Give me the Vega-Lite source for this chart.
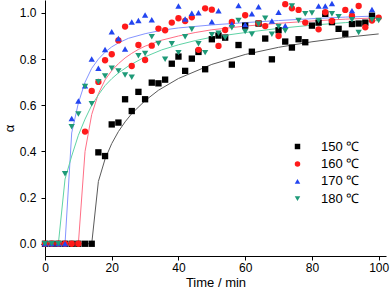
{
  "$schema": "https://vega.github.io/schema/vega-lite/v6.json",
  "width": 341,
  "height": 256,
  "autosize": "none",
  "padding": {"left": 45, "top": 0, "right": 4, "bottom": 36},
  "background": "white",
  "config": {
    "view": {"stroke": null},
    "font": "Liberation Sans",
    "axis": {"grid": false, "domainColor": "black", "tickColor": "black", "labelColor": "black", "titleColor": "black", "labelFont": "Liberation Sans", "titleFont": "Liberation Sans", "titleFontWeight": "normal", "labelFontSize": 12, "titleFontSize": 13, "domainWidth": 1, "tickWidth": 1},
    "legend": {"labelFont": "Liberation Sans", "labelFontSize": 13, "labelFontWeight": "normal", "labelColor": "black"}
  },
  "datasets": {
    "pts": [
      {"s":"150 ℃","t":0,"a":0},{"s":"150 ℃","t":2,"a":0},{"s":"150 ℃","t":4,"a":0},{"s":"150 ℃","t":6,"a":0},{"s":"150 ℃","t":8,"a":0},{"s":"150 ℃","t":10,"a":0},{"s":"150 ℃","t":12,"a":0},{"s":"150 ℃","t":14,"a":0},
      {"s":"150 ℃","t":16,"a":0.396},{"s":"150 ℃","t":18,"a":0.380},{"s":"150 ℃","t":20,"a":0.517},{"s":"150 ℃","t":22,"a":0.525},{"s":"150 ℃","t":24,"a":0.626},{"s":"150 ℃","t":26,"a":0.575},{"s":"150 ℃","t":28,"a":0.658},{"s":"150 ℃","t":30,"a":0.626},{"s":"150 ℃","t":32,"a":0.698},{"s":"150 ℃","t":34,"a":0.695},{"s":"150 ℃","t":36,"a":0.711},{"s":"150 ℃","t":38,"a":0.780},{"s":"150 ℃","t":40,"a":0.811},{"s":"150 ℃","t":42,"a":0.749},{"s":"150 ℃","t":44,"a":0.802},{"s":"150 ℃","t":46,"a":0.831},{"s":"150 ℃","t":48,"a":0.756},{"s":"150 ℃","t":50,"a":0.886},{"s":"150 ℃","t":52,"a":0.902},{"s":"150 ℃","t":54,"a":0.893},{"s":"150 ℃","t":56,"a":0.776},{"s":"150 ℃","t":58,"a":0.861},{"s":"150 ℃","t":60,"a":0.945},{"s":"150 ℃","t":62,"a":0.832},{"s":"150 ℃","t":64,"a":0.954},{"s":"150 ℃","t":66,"a":0.889},{"s":"150 ℃","t":68,"a":0.799},{"s":"150 ℃","t":70,"a":0.925},{"s":"150 ℃","t":72,"a":0.876},{"s":"150 ℃","t":74,"a":0.850},{"s":"150 ℃","t":76,"a":0.886},{"s":"150 ℃","t":78,"a":0.873},{"s":"150 ℃","t":80,"a":0.945},{"s":"150 ℃","t":82,"a":0.958},{"s":"150 ℃","t":84,"a":0.996},{"s":"150 ℃","t":86,"a":0.960},{"s":"150 ℃","t":88,"a":0.931},{"s":"150 ℃","t":90,"a":0.910},{"s":"150 ℃","t":92,"a":0.952},{"s":"150 ℃","t":94,"a":0.954},{"s":"150 ℃","t":96,"a":0.958},{"s":"150 ℃","t":98,"a":0.988},
      {"s":"160 ℃","t":0,"a":0},{"s":"160 ℃","t":2,"a":0},{"s":"160 ℃","t":4,"a":0},{"s":"160 ℃","t":6,"a":0},{"s":"160 ℃","t":8,"a":0},{"s":"160 ℃","t":10,"a":0},
      {"s":"160 ℃","t":12,"a":0.486},{"s":"160 ℃","t":14,"a":0.662},{"s":"160 ℃","t":16,"a":0.701},{"s":"160 ℃","t":18,"a":0.795},{"s":"160 ℃","t":20,"a":0.821},{"s":"160 ℃","t":22,"a":0.881},{"s":"160 ℃","t":24,"a":0.941},{"s":"160 ℃","t":26,"a":0.770},{"s":"160 ℃","t":28,"a":0.861},{"s":"160 ℃","t":30,"a":0.796},{"s":"160 ℃","t":32,"a":0.858},{"s":"160 ℃","t":34,"a":0.932},{"s":"160 ℃","t":36,"a":0.925},{"s":"160 ℃","t":38,"a":0.958},{"s":"160 ℃","t":40,"a":0.977},{"s":"160 ℃","t":42,"a":0.965},{"s":"160 ℃","t":44,"a":0.981},{"s":"160 ℃","t":46,"a":0.840},{"s":"160 ℃","t":48,"a":1.020},{"s":"160 ℃","t":50,"a":1.014},{"s":"160 ℃","t":52,"a":0.857},{"s":"160 ℃","t":54,"a":0.926},{"s":"160 ℃","t":56,"a":0.961},{"s":"160 ℃","t":60,"a":0.990},{"s":"160 ℃","t":64,"a":0.955},{"s":"160 ℃","t":66,"a":0.943},{"s":"160 ℃","t":70,"a":0.900},{"s":"160 ℃","t":72,"a":1.038},{"s":"160 ℃","t":74,"a":1.020},{"s":"160 ℃","t":76,"a":1.013},{"s":"160 ℃","t":78,"a":0.958},{"s":"160 ℃","t":82,"a":0.929},{"s":"160 ℃","t":84,"a":1.003},{"s":"160 ℃","t":86,"a":0.965},{"s":"160 ℃","t":90,"a":1.013},{"s":"160 ℃","t":92,"a":0.988},{"s":"160 ℃","t":94,"a":1.030},{"s":"160 ℃","t":96,"a":0.938},{"s":"160 ℃","t":98,"a":0.967},{"s":"160 ℃","t":100,"a":0.980},
      {"s":"170 ℃","t":0,"a":0},{"s":"170 ℃","t":2,"a":0},{"s":"170 ℃","t":4,"a":0},{"s":"170 ℃","t":6,"a":0},
      {"s":"170 ℃","t":8,"a":0.543},{"s":"170 ℃","t":10,"a":0.618},{"s":"170 ℃","t":12,"a":0.684},{"s":"170 ℃","t":14,"a":0.800},{"s":"170 ℃","t":16,"a":0.760},{"s":"170 ℃","t":18,"a":0.842},{"s":"170 ℃","t":20,"a":0.918},{"s":"170 ℃","t":22,"a":0.889},{"s":"170 ℃","t":24,"a":0.844},{"s":"170 ℃","t":26,"a":0.961},{"s":"170 ℃","t":28,"a":0.967},{"s":"170 ℃","t":30,"a":0.991},{"s":"170 ℃","t":32,"a":0.970},{"s":"170 ℃","t":40,"a":1.030},{"s":"170 ℃","t":42,"a":0.974},{"s":"170 ℃","t":44,"a":0.999},{"s":"170 ℃","t":46,"a":1.001},{"s":"170 ℃","t":50,"a":0.962},{"s":"170 ℃","t":52,"a":1.009},{"s":"170 ℃","t":56,"a":0.952},{"s":"170 ℃","t":58,"a":1.032},{"s":"170 ℃","t":60,"a":0.950},{"s":"170 ℃","t":62,"a":0.996},{"s":"170 ℃","t":64,"a":1.027},{"s":"170 ℃","t":68,"a":0.965},{"s":"170 ℃","t":70,"a":1.003},{"s":"170 ℃","t":72,"a":0.944},{"s":"170 ℃","t":82,"a":1.030},{"s":"170 ℃","t":84,"a":1.030},{"s":"170 ℃","t":86,"a":1.041},{"s":"170 ℃","t":92,"a":1.010},{"s":"170 ℃","t":98,"a":1.015},
      {"s":"180 ℃","t":0,"a":0},{"s":"180 ℃","t":2,"a":0},{"s":"180 ℃","t":4,"a":0},
      {"s":"180 ℃","t":6,"a":0.303},{"s":"180 ℃","t":8,"a":0.507},{"s":"180 ℃","t":10,"a":0.562},{"s":"180 ℃","t":12,"a":0.681},{"s":"180 ℃","t":14,"a":0.607},{"s":"180 ℃","t":16,"a":0.702},{"s":"180 ℃","t":18,"a":0.727},{"s":"180 ℃","t":20,"a":0.760},{"s":"180 ℃","t":22,"a":0.749},{"s":"180 ℃","t":24,"a":0.731},{"s":"180 ℃","t":26,"a":0.721},{"s":"180 ℃","t":28,"a":0.814},{"s":"180 ℃","t":30,"a":0.824},{"s":"180 ℃","t":32,"a":0.897},{"s":"180 ℃","t":34,"a":0.868},{"s":"180 ℃","t":36,"a":0.799},{"s":"180 ℃","t":38,"a":0.866},{"s":"180 ℃","t":40,"a":0.828},{"s":"180 ℃","t":42,"a":0.897},{"s":"180 ℃","t":44,"a":0.929},{"s":"180 ℃","t":46,"a":0.866},{"s":"180 ℃","t":48,"a":0.828},{"s":"180 ℃","t":50,"a":0.905},{"s":"180 ℃","t":52,"a":0.912},{"s":"180 ℃","t":54,"a":0.893},{"s":"180 ℃","t":56,"a":0.936},{"s":"180 ℃","t":58,"a":0.967},{"s":"180 ℃","t":60,"a":0.919},{"s":"180 ℃","t":62,"a":0.908},{"s":"180 ℃","t":64,"a":0.952},{"s":"180 ℃","t":66,"a":0.977},{"s":"180 ℃","t":68,"a":0.908},{"s":"180 ℃","t":70,"a":0.941},{"s":"180 ℃","t":72,"a":0.923},{"s":"180 ℃","t":74,"a":1.030},{"s":"180 ℃","t":76,"a":0.967},{"s":"180 ℃","t":78,"a":0.996},{"s":"180 ℃","t":80,"a":1.000},{"s":"180 ℃","t":82,"a":0.967},{"s":"180 ℃","t":86,"a":0.996},{"s":"180 ℃","t":88,"a":0.984},{"s":"180 ℃","t":92,"a":0.970},{"s":"180 ℃","t":94,"a":0.915},{"s":"180 ℃","t":98,"a":0.970},{"s":"180 ℃","t":100,"a":0.967}
    ],
    "fit": [
      {"c":"150 fit","t":0,"a":0},{"c":"150 fit","t":14,"a":0},{"c":"150 fit","t":16,"a":0.27},{"c":"150 fit","t":18,"a":0.367},{"c":"150 fit","t":20,"a":0.434},{"c":"150 fit","t":22,"a":0.486},{"c":"150 fit","t":24,"a":0.528},{"c":"150 fit","t":26,"a":0.564},{"c":"150 fit","t":30,"a":0.62},{"c":"150 fit","t":34,"a":0.665},{"c":"150 fit","t":40,"a":0.716},{"c":"150 fit","t":50,"a":0.777},{"c":"150 fit","t":60,"a":0.82},{"c":"150 fit","t":70,"a":0.851},{"c":"150 fit","t":80,"a":0.875},{"c":"150 fit","t":90,"a":0.894},{"c":"150 fit","t":100,"a":0.909},
      {"c":"160 fit","t":0,"a":0},{"c":"160 fit","t":10,"a":0},{"c":"160 fit","t":12,"a":0.40},{"c":"160 fit","t":14,"a":0.56},{"c":"160 fit","t":16,"a":0.65},{"c":"160 fit","t":18,"a":0.71},{"c":"160 fit","t":20,"a":0.75},{"c":"160 fit","t":22,"a":0.78},{"c":"160 fit","t":24,"a":0.805},{"c":"160 fit","t":26,"a":0.825},{"c":"160 fit","t":28,"a":0.842},{"c":"160 fit","t":30,"a":0.856},{"c":"160 fit","t":35,"a":0.882},{"c":"160 fit","t":40,"a":0.90},{"c":"160 fit","t":45,"a":0.915},{"c":"160 fit","t":50,"a":0.927},{"c":"160 fit","t":60,"a":0.943},{"c":"160 fit","t":70,"a":0.955},{"c":"160 fit","t":80,"a":0.965},{"c":"160 fit","t":90,"a":0.973},{"c":"160 fit","t":100,"a":0.979},
      {"c":"170 fit","t":0,"a":0},{"c":"170 fit","t":6,"a":0},{"c":"170 fit","t":8,"a":0.48},{"c":"170 fit","t":10,"a":0.61},{"c":"170 fit","t":12,"a":0.70},{"c":"170 fit","t":14,"a":0.76},{"c":"170 fit","t":16,"a":0.80},{"c":"170 fit","t":18,"a":0.83},{"c":"170 fit","t":20,"a":0.853},{"c":"170 fit","t":22,"a":0.87},{"c":"170 fit","t":25,"a":0.89},{"c":"170 fit","t":30,"a":0.91},{"c":"170 fit","t":35,"a":0.925},{"c":"170 fit","t":40,"a":0.935},{"c":"170 fit","t":50,"a":0.948},{"c":"170 fit","t":60,"a":0.958},{"c":"170 fit","t":70,"a":0.967},{"c":"170 fit","t":80,"a":0.975},{"c":"170 fit","t":90,"a":0.982},{"c":"170 fit","t":100,"a":0.987},
      {"c":"180 fit","t":0,"a":0},{"c":"180 fit","t":4,"a":0},{"c":"180 fit","t":6,"a":0.28},{"c":"180 fit","t":8,"a":0.38},{"c":"180 fit","t":10,"a":0.47},{"c":"180 fit","t":12,"a":0.54},{"c":"180 fit","t":14,"a":0.60},{"c":"180 fit","t":16,"a":0.645},{"c":"180 fit","t":18,"a":0.685},{"c":"180 fit","t":20,"a":0.715},{"c":"180 fit","t":22,"a":0.74},{"c":"180 fit","t":25,"a":0.77},{"c":"180 fit","t":30,"a":0.81},{"c":"180 fit","t":35,"a":0.84},{"c":"180 fit","t":40,"a":0.862},{"c":"180 fit","t":45,"a":0.88},{"c":"180 fit","t":50,"a":0.895},{"c":"180 fit","t":60,"a":0.915},{"c":"180 fit","t":70,"a":0.933},{"c":"180 fit","t":80,"a":0.947},{"c":"180 fit","t":90,"a":0.958},{"c":"180 fit","t":100,"a":0.967}
    ]
  },
  "layer": [
    {
      "data": {"name": "fit"},
      "mark": {"type": "line", "strokeWidth": 1, "interpolate": "linear"},
      "encoding": {
        "x": {"field": "t", "type": "quantitative", "scale": {"domain": [0, 102.2], "nice": false, "zero": false},
              "axis": {"title": "Time / min", "values": [0,10,20,30,40,50,60,70,80,90,100], "labelExpr": "datum.value % 20 == 0 ? datum.label : ''", "tickSize": {"condition": {"test": "datum.value % 20 == 0", "value": 4}, "value": 3}, "labelPadding": 2, "titlePadding": 3, "labelFlush": false}},
        "y": {"field": "a", "type": "quantitative", "scale": {"domain": [-0.053, 1.056], "nice": false, "zero": false},
              "axis": {"title": "α", "values": [0,0.1,0.2,0.3,0.4,0.5,0.6,0.7,0.8,0.9,1.0], "labelExpr": "round(datum.value*10) % 2 == 0 ? format(datum.value, '.1f') : ''", "tickSize": {"condition": {"test": "round(datum.value*10) % 2 == 0", "value": 4}, "value": 3}, "labelPadding": 5, "titlePadding": 3, "labelFlush": false}},
        "stroke": {"field": "c", "type": "nominal", "scale": {"domain": ["150 fit","160 fit","170 fit","180 fit"], "range": ["#5a5a5a", "#ff6f86", "#8494ff", "#5fd3a6"]}, "legend": null},
        "detail": {"field": "c"}
      }
    },
    {
      "data": {"name": "pts"},
      "mark": {"type": "point", "filled": true, "opacity": 1, "size": 40},
      "encoding": {
        "x": {"field": "t", "type": "quantitative"},
        "y": {"field": "a", "type": "quantitative"},
        "color": {"field": "s", "type": "nominal", "scale": {"domain": ["150 ℃","160 ℃","170 ℃","180 ℃"], "range": ["#000000", "#ff1a1a", "#2345f0", "#1e9a78"]},
                  "legend": {"title": null, "orient": "none", "legendX": 246, "legendY": 140, "symbolSize": 30, "labelOffset": 17, "rowPadding": 3.4, "padding": 0, "symbolStrokeWidth": 0, "symbolOpacity": 1, "labelFontWeight": "normal"}},
        "shape": {"field": "s", "type": "nominal", "scale": {"domain": ["150 ℃","160 ℃","170 ℃","180 ℃"], "range": ["square", "circle", "triangle-up", "triangle-down"]},
                  "legend": {"title": null, "orient": "none", "legendX": 246, "legendY": 140, "symbolSize": 30, "labelOffset": 17, "rowPadding": 3.4, "padding": 0, "symbolStrokeWidth": 0, "symbolOpacity": 1, "labelFontWeight": "normal"}}
      }
    }
  ]
}
